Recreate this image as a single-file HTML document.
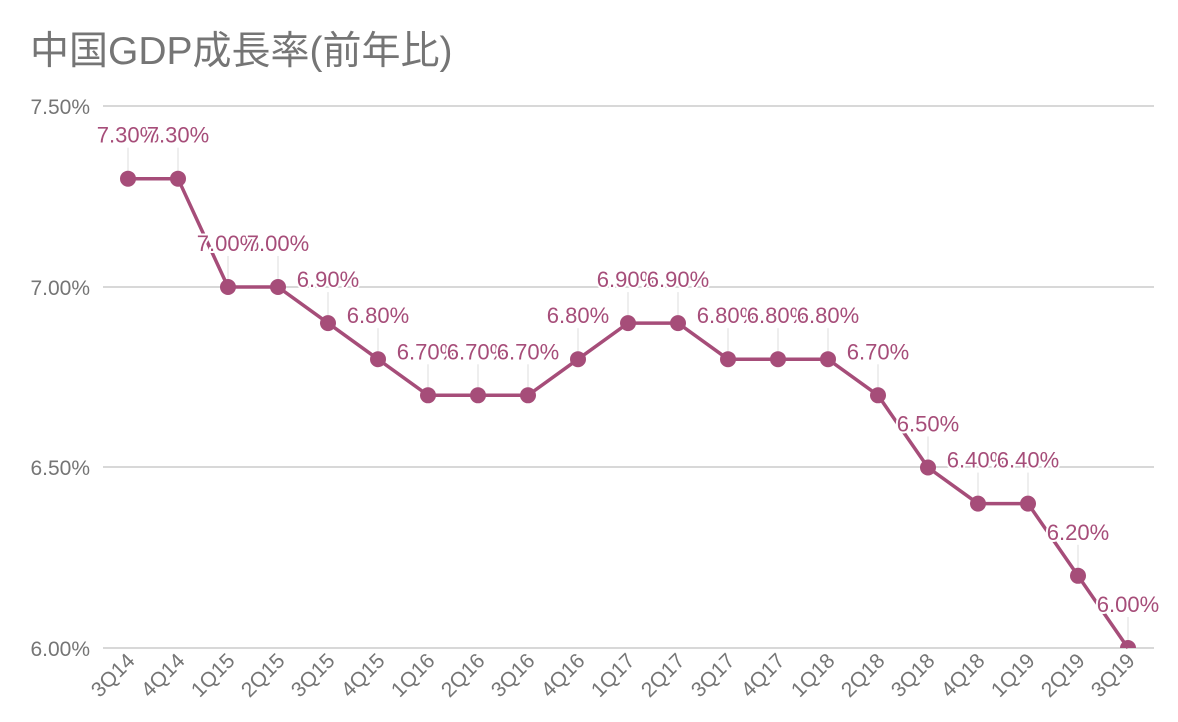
<!DOCTYPE html>
<html><head><meta charset="utf-8"><style>
html,body{margin:0;padding:0;background:#fff;}
svg{display:block;font-family:"Liberation Sans","Noto Sans CJK JP",sans-serif;}
.lab{font-size:22px;fill:#a64d79;text-anchor:middle;stroke:#fff;stroke-width:4px;paint-order:stroke;stroke-linejoin:round;}
.ax{font-size:21px;fill:#757575;}
</style></head><body>
<svg width="1178" height="722" xmlns="http://www.w3.org/2000/svg">
<text x="30" y="64" font-size="39" fill="#757575">中国GDP成長率(前年比)</text>
<g stroke="#cccccc" stroke-width="1.5">
<line x1="103" x2="1154" y1="106" y2="106"/>
<line x1="103" x2="1154" y1="287" y2="287"/>
<line x1="103" x2="1154" y1="467" y2="467"/>
<line x1="103" x2="1154" y1="648" y2="648"/>
</g>
<g class="ax" text-anchor="end">
<text x="90" y="114">7.50%</text>
<text x="90" y="295">7.00%</text>
<text x="90" y="475">6.50%</text>
<text x="90" y="656">6.00%</text>
</g>
<g id="c"></g>
</svg>
<script>
const v=[7.3,7.3,7.0,7.0,6.9,6.8,6.7,6.7,6.7,6.8,6.9,6.9,6.8,6.8,6.8,6.7,6.5,6.4,6.4,6.2,6.0];
const n=["3Q14","4Q14","1Q15","2Q15","3Q15","4Q15","1Q16","2Q16","3Q16","4Q16","1Q17","2Q17","3Q17","4Q17","1Q18","2Q18","3Q18","4Q18","1Q19","2Q19","3Q19"];
const Y=x=>648-(x-6)*361;const X=i=>128+i*50;
let s='';
v.forEach((d,i)=>{s+=`<line x1="${X(i)}" x2="${X(i)}" y1="${Y(d)-31}" y2="${Y(d)}" stroke="#e8e8e8" stroke-width="1.5"/>`;});
s+=`<polyline fill="none" stroke="#a64d79" stroke-width="3.5" points="${v.map((d,i)=>X(i)+','+Y(d)).join(' ')}"/>`;
s+='<defs><clipPath id="cp"><rect x="0" y="0" width="1178" height="648"/></clipPath></defs><g clip-path="url(#cp)">';
v.forEach((d,i)=>{s+=`<circle cx="${X(i)}" cy="${Y(d)}" r="8" fill="#a64d79"/>`;});
s+='</g>';
v.forEach((d,i)=>{s+=`<text class="lab" x="${X(i)}" y="${Y(d)-36}">${d.toFixed(2)}%</text>`;});
n.forEach((t,i)=>{s+=`<text class="ax" font-size="16" text-anchor="end" transform="translate(${X(i)+8},662) rotate(-45)">${t}</text>`;});
document.getElementById('c').innerHTML=s;
</script>
</body></html>
